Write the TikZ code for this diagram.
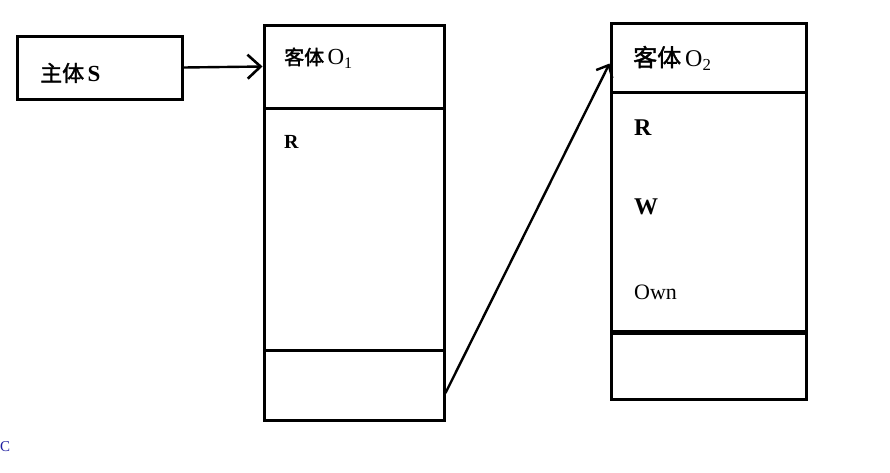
\documentclass[tikz,border=0pt]{standalone}
\usepackage{fontspec}
\setmainfont{Liberation Serif}
\newfontfamily\cjk[FakeBold=1.6]{Noto Sans CJK SC}
\usetikzlibrary{arrows.meta}
\tikzset{
    box/.style={draw, line width=3pt, inner sep=0pt},
    lbl/.style={anchor=west, inner sep=0pt, font=\fontsize{20}{22}\selectfont},
    big/.style={lbl, font=\fontsize{24}{26}\selectfont},
    link/.style={line width=2.4pt, -{Straight Barb[length=13pt, width=24pt, line width=2.6pt]}}
}
\begin{document}
\begin{tikzpicture}[x=1pt, y=-1pt]
    \useasboundingbox (0,0) rectangle (890,472);
    % subject
    \node[box, minimum width=165pt, minimum height=63pt] (subj) at (99.5,67.5) {};
    \node[lbl] (subjtxt) at (40,73) {{\cjk\fontsize{22}{24}\selectfont 主体}\,{\fontsize{23}{24}\selectfont\textbf{S}}};
    % object O1
    \node[box, minimum width=180pt, minimum height=83pt] (oatop) at (354,66.5) {};
    \node[box, minimum width=180pt, minimum height=242pt] (oamid) at (354,229) {};
    \node[box, minimum width=180pt, minimum height=70pt] (oabot) at (354,385) {};
    \node[lbl] (oatxt) at (284,58) {{\cjk 客体}\,{\fontsize{23}{24}\selectfont O\textsubscript{1}}};
    \node[lbl] (oar) at (284,142) {\textbf{R}};
    % object O2
    \node[box, minimum width=195pt, minimum height=69pt] (obtop) at (708.5,57.5) {};
    \node[box, minimum width=195pt, minimum height=239pt] (obmid) at (708.5,211.5) {};
    \node[box, minimum width=195pt, minimum height=66pt] (obbot) at (708.5,366) {};
    \node[big] (obtxt) at (633,58) {{\cjk 客体}\,O\textsubscript{2}};
    \node[big] (obr) at (634,128) {\textbf{R}};
    \node[big] (obw) at (634,207) {\textbf{W}};
    \node[lbl, font=\fontsize{22}{24}\selectfont] (obown) at (634,292) {Own};
    % links
    \draw[link] (subj.east) -- (oatop.west);
    \draw[link, -{Straight Barb[length=10pt, width=18pt, line width=2.4pt]}] ([yshift=-8pt]oabot.east) -- ([yshift=-6pt]obtop.west);
    \node[anchor=west, inner sep=0pt, text={rgb,255:red,30;green,30;blue,160}, font=\fontsize{15}{16}\selectfont] (mark) at (0,447) {C};
\end{tikzpicture}
\end{document}
